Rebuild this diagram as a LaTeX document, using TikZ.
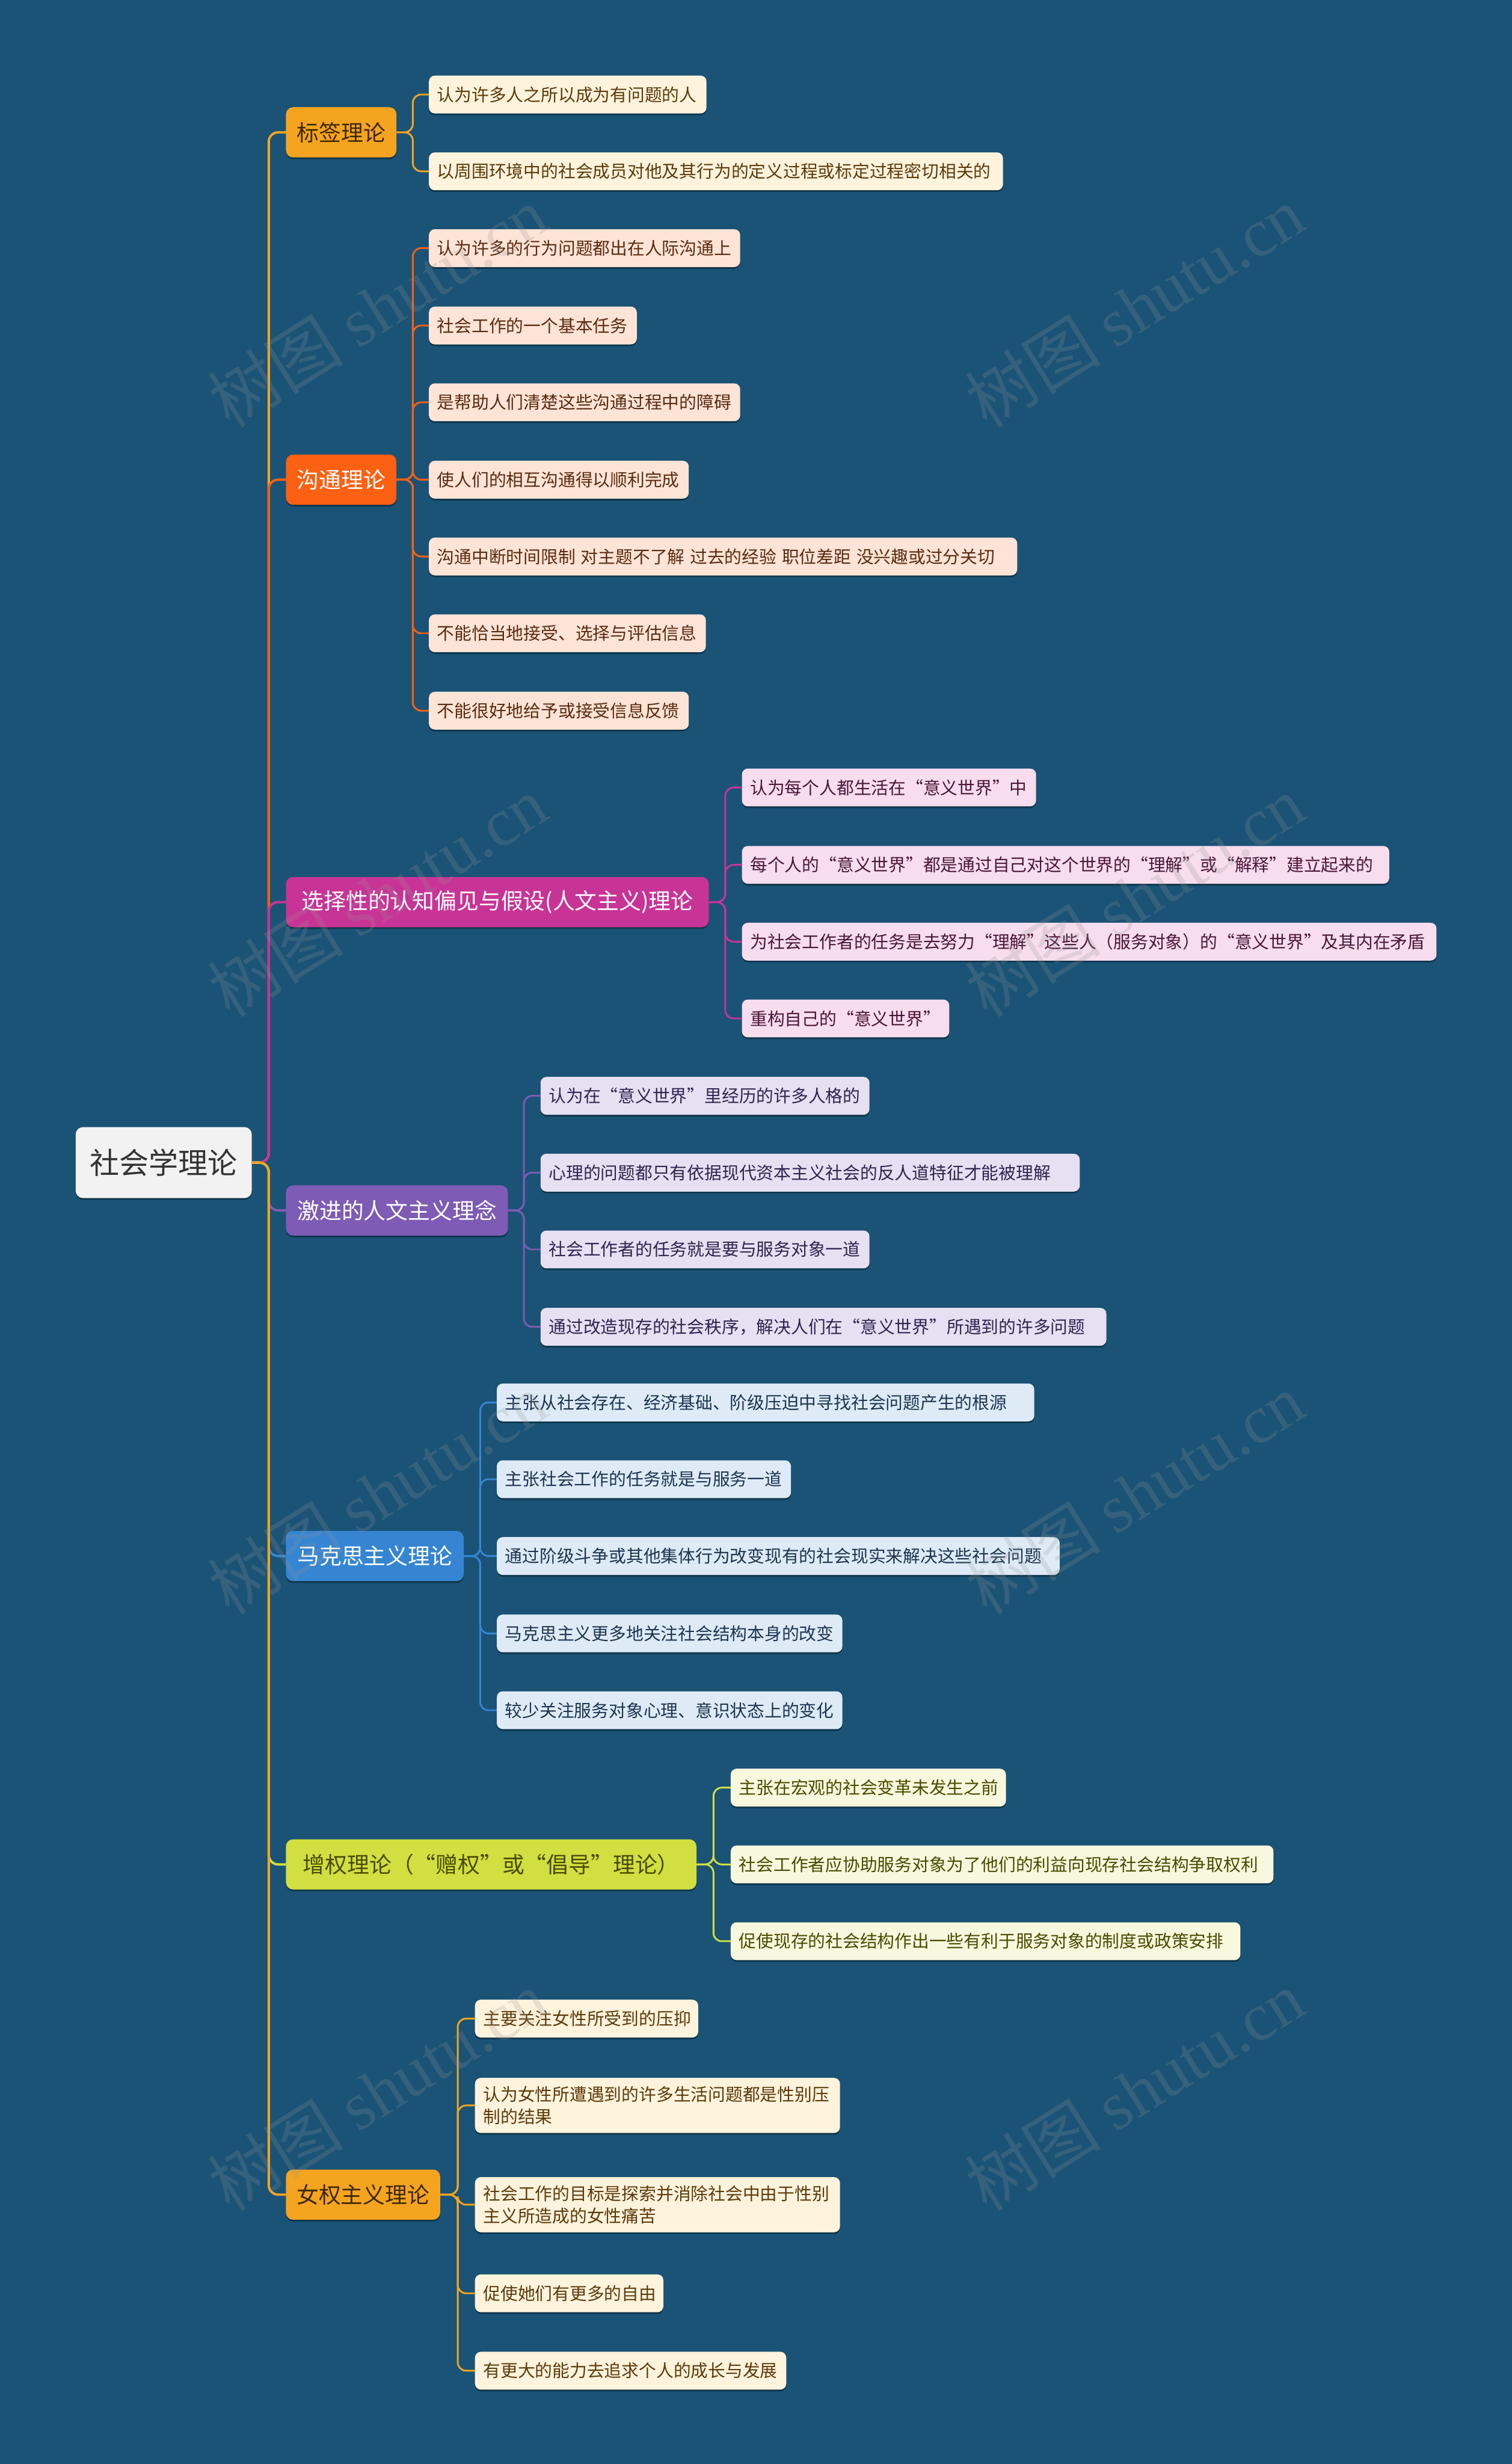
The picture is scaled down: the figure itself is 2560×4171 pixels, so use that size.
\documentclass[tikz,border=0pt]{standalone}
\usepackage{fontspec}
\setmainfont{Noto Sans CJK SC}
\newfontfamily\wmlatin{Liberation Serif}
\usetikzlibrary{shadows}
\definecolor{bg}{RGB}{26,83,118}
\definecolor{rootfill}{RGB}{242,242,242}
\definecolor{roottext}{RGB}{51,51,51}
\definecolor{cA}{RGB}{245,164,32}
\definecolor{cB}{RGB}{252,96,18}
\definecolor{cC}{RGB}{200,52,150}
\definecolor{cD}{RGB}{126,91,180}
\definecolor{cE}{RGB}{53,133,211}
\definecolor{cF}{RGB}{209,223,64}
\definecolor{lA}{RGB}{254,243,220}
\definecolor{lB}{RGB}{254,228,214}
\definecolor{lC}{RGB}{247,221,238}
\definecolor{lD}{RGB}{230,224,242}
\definecolor{lE}{RGB}{222,235,247}
\definecolor{lF}{RGB}{248,248,222}
\definecolor{tA}{RGB}{92,58,10}
\definecolor{tB}{RGB}{90,42,16}
\definecolor{tC}{RGB}{74,22,54}
\definecolor{tD}{RGB}{46,37,80}
\definecolor{tE}{RGB}{28,52,80}
\definecolor{tF}{RGB}{74,74,0}
\definecolor{tAt}{RGB}{61,40,0}
\definecolor{wm}{RGB}{150,150,150}
\newcommand{\gap}{\hspace{9pt}}
\begin{document}
\begin{tikzpicture}[x=1pt,y=-1pt,
  shad/.style={drop shadow={shadow xshift=0pt,shadow yshift=-3pt,opacity=0.35,fill=black}},
  rootbox/.style={shad,fill=rootfill,text=roottext,rounded corners=12pt,minimum height=120pt,inner xsep=24pt,font=\fontsize{50}{60}\selectfont,anchor=west},
  topic/.style={shad,rounded corners=12pt,minimum height=85pt,inner xsep=10pt,font=\fontsize{37.5}{46}\selectfont,anchor=west},
  leaf/.style={shad,rounded corners=10pt,minimum height=64pt,inner xsep=14pt,inner ysep=14pt,font=\fontsize{29.3}{38}\selectfont,anchor=west,align=left,text width=#1pt},
  link/.style={line width=4pt,rounded corners=16pt},
  sublink/.style={line width=3pt,rounded corners=14pt},
  wmark/.style={text=wm,opacity=0.22,rotate=32,font=\fontsize{115}{125}\selectfont}
]
\fill[bg] (0,0) rectangle (2560,4171);
\useasboundingbox (0,0) rectangle (2560,4171);

% root
\node[rootbox] (root) at (128,1968) {社会学理论};

% topics
\node[topic,fill=cA,text=tAt,minimum width=187pt] (t1) at (484,224) {标签理论};
\node[topic,fill=cB,text=white,minimum width=187pt] (t2) at (484,812) {沟通理论};
\node[topic,fill=cC,text=white,minimum width=716pt] (t3) at (484,1527) {选择性的认知偏见与假设(人文主义)理论};
\node[topic,fill=cD,text=white,minimum width=376pt] (t4) at (484,2049) {激进的人文主义理念};
\node[topic,fill=cE,text=white,minimum width=301pt] (t5) at (484,2634) {马克思主义理论};
\node[topic,fill=cF,text=tF,minimum width=695pt] (t6) at (484,3156) {增权理论（“赠权”或“倡导”理论）};
\node[topic,fill=cA,text=tAt,minimum width=261pt] (t7) at (484,3715) {女权主义理论};

% group 1
\node[leaf=442,fill=lA,text=tA] (l1a) at (726,160) {认为许多人之所以成为有问题的人};
\node[leaf=944,fill=lA,text=tA] (l1b) at (726,290) {以周围环境中的社会成员对他及其行为的定义过程或标定过程密切相关的};
% group 2
\node[leaf=499,fill=lB,text=tB] (l2a) at (726,420) {认为许多的行为问题都出在人际沟通上};
\node[leaf=324,fill=lB,text=tB] (l2b) at (726,551) {社会工作的一个基本任务};
\node[leaf=499,fill=lB,text=tB] (l2c) at (726,681) {是帮助人们清楚这些沟通过程中的障碍};
\node[leaf=412,fill=lB,text=tB] (l2d) at (726,812) {使人们的相互沟通得以顺利完成};
\node[leaf=968,fill=lB,text=tB] (l2e) at (726,942) {沟通中断时间限制\gap 对主题不了解\gap 过去的经验\gap 职位差距\gap 没兴趣或过分关切};
\node[leaf=441,fill=lB,text=tB] (l2f) at (726,1072) {不能恰当地接受、选择与评估信息};
\node[leaf=412,fill=lB,text=tB] (l2g) at (726,1203) {不能很好地给予或接受信息反馈};
% group 3
\node[leaf=470,fill=lC,text=tC] (l3a) at (1256,1333) {认为每个人都生活在“意义世界”中};
\node[leaf=1068,fill=lC,text=tC] (l3b) at (1256,1464) {每个人的“意义世界”都是通过自己对这个世界的“理解”或“解释”建立起来的};
\node[leaf=1148,fill=lC,text=tC] (l3c) at (1256,1594) {为社会工作者的任务是去努力“理解”这些人（服务对象）的“意义世界”及其内在矛盾};
\node[leaf=323,fill=lC,text=tC] (l3d) at (1256,1724) {重构自己的“意义世界”};
% group 4
\node[leaf=529,fill=lD,text=tD] (l4a) at (915,1855) {认为在“意义世界”里经历的许多人格的};
\node[leaf=885,fill=lD,text=tD] (l4b) at (915,1985) {心理的问题都只有依据现代资本主义社会的反人道特征才能被理解};
\node[leaf=529,fill=lD,text=tD] (l4c) at (915,2115) {社会工作者的任务就是要与服务对象一道};
\node[leaf=930,fill=lD,text=tD] (l4d) at (915,2246) {通过改造现存的社会秩序，解决人们在“意义世界”所遇到的许多问题};
% group 5
\node[leaf=882,fill=lE,text=tE] (l5a) at (841,2374) {主张从社会存在、经济基础、阶级压迫中寻找社会问题产生的根源};
\node[leaf=470,fill=lE,text=tE] (l5b) at (841,2504) {主张社会工作的任务就是与服务一道};
\node[leaf=925,fill=lE,text=tE] (l5c) at (841,2634) {通过阶级斗争或其他集体行为改变现有的社会现实来解决这些社会问题};
\node[leaf=557,fill=lE,text=tE] (l5d) at (841,2765) {马克思主义更多地关注社会结构本身的改变};
\node[leaf=557,fill=lE,text=tE] (l5e) at (841,2895) {较少关注服务对象心理、意识状态上的变化};
% group 6
\node[leaf=438,fill=lF,text=tF] (l6a) at (1237,3026) {主张在宏观的社会变革未发生之前};
\node[leaf=891,fill=lF,text=tF] (l6b) at (1237,3156) {社会工作者应协助服务对象为了他们的利益向现存社会结构争取权利};
\node[leaf=835,fill=lF,text=tF] (l6c) at (1237,3286) {促使现存的社会结构作出一些有利于服务对象的制度或政策安排};
% group 7
\node[leaf=350,fill=lA,text=tA] (l7a) at (804,3417) {主要关注女性所受到的压抑};
\node[leaf=590,fill=lA,text=tA] (l7b) at (804,3564) {认为女性所遭遇到的许多生活问题都是性别压\\制的结果};
\node[leaf=590,fill=lA,text=tA] (l7c) at (804,3732) {社会工作的目标是探索并消除社会中由于性别\\主义所造成的女性痛苦};
\node[leaf=291,fill=lA,text=tA] (l7d) at (804,3882) {促使她们有更多的自由};
\node[leaf=499,fill=lA,text=tA] (l7e) at (804,4013) {有更大的能力去追求个人的成长与发展};

% trunk coordinates
\coordinate (tx) at (455,0);
\coordinate (v1) at (699,224);
\coordinate (v2) at (699,812);
\coordinate (v3) at (1228,1527);
\coordinate (v4) at (887,2049);
\coordinate (v5) at (813,2634);
\coordinate (v6) at (1208,3156);
\coordinate (v7) at (775,3715);

% root links (drawn in order)
\draw[link,cA] (root.east) -- (root.east -| tx) |- (t1.west);
\draw[link,cB] (root.east) -- (root.east -| tx) |- (t2.west);
\draw[link,cC] (root.east) -- (root.east -| tx) |- (t3.west);
\draw[link,cD] (root.east) -- (root.east -| tx) |- (t4.west);
\draw[link,cE] (root.east) -- (root.east -| tx) |- (t5.west);
\draw[link,cF] (root.east) -- (root.east -| tx) |- (t6.west);
\draw[link,cA] (root.east) -- (root.east -| tx) |- (t7.west);

% leaf links
\foreach \l in {l1a,l1b} \draw[sublink,cA] (t1.east) -- (v1) |- (\l.west);
\foreach \l in {l2a,l2b,l2c,l2d,l2e,l2f,l2g} \draw[sublink,cB] (t2.east) -- (v2) |- (\l.west);
\foreach \l in {l3a,l3b,l3c,l3d} \draw[sublink,cC] (t3.east) -- (v3) |- (\l.west);
\foreach \l in {l4a,l4b,l4c,l4d} \draw[sublink,cD] (t4.east) -- (v4) |- (\l.west);
\foreach \l in {l5a,l5b,l5c,l5d,l5e} \draw[sublink,cE] (t5.east) -- (v5) |- (\l.west);
\foreach \l in {l6a,l6b,l6c} \draw[sublink,cF] (t6.east) -- (v6) |- (\l.west);
\foreach \l in {l7a,l7b,l7c,l7d,l7e} \draw[sublink,cA] (t7.east) -- (v7) |- (\l.west);

% watermarks
\node[wmark] (wm1) at (639,519) {树图 {\wmlatin shutu.cn}};
\node[wmark] (wm2) at (1921,519) {树图 {\wmlatin shutu.cn}};
\node[wmark] (wm3) at (639,1517) {树图 {\wmlatin shutu.cn}};
\node[wmark] (wm4) at (1921,1517) {树图 {\wmlatin shutu.cn}};
\node[wmark] (wm5) at (639,2528) {树图 {\wmlatin shutu.cn}};
\node[wmark] (wm6) at (1921,2528) {树图 {\wmlatin shutu.cn}};
\node[wmark] (wm7) at (639,3539) {树图 {\wmlatin shutu.cn}};
\node[wmark] (wm8) at (1921,3539) {树图 {\wmlatin shutu.cn}};
\end{tikzpicture}
\end{document}
